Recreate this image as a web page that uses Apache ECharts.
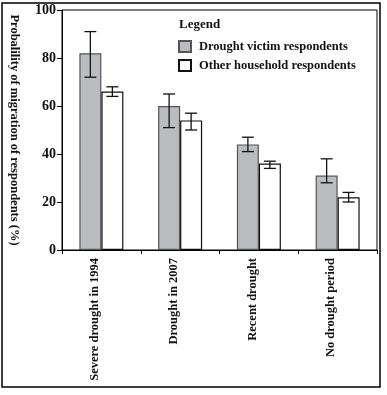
<!DOCTYPE html>
<html>
<head>
<meta charset="utf-8">
<script src="https://cdn.jsdelivr.net/npm/echarts@6/dist/echarts.min.js"></script>
<style>
html, body { margin: 0; padding: 0; background: #fff; }
#chart { width: 387px; height: 395px; }
</style>
</head>
<body>
<div id="chart"></div>
<script>
var categories = ['Severe drought in 1994', 'Drought in 2007', 'Recent drought', 'No drought period'];
var victimValues = [82, 60, 44, 31];
var victimErrLow = [72, 51, 41, 28];
var victimErrHigh = [91, 65, 47, 38];
var otherValues = [66, 54, 36, 22];
var otherErrLow = [64, 50, 34, 20];
var otherErrHigh = [68, 57, 37, 24];
var yTicks = [0, 20, 40, 60, 80, 100];

var font = '"Liberation Serif", "DejaVu Serif", serif';
var chart = echarts.init(document.getElementById('chart'));

function errData(lo, hi) {
    var out = [];
    for (var i = 0; i < categories.length; i++) {
        out.push([i, lo[i], hi[i]]);
    }
    return out;
}

// whisker drawn at the bar's center, offset from category center
function errRender(offset) {
    return function (params, api) {
        var lo = api.coord([api.value(0), api.value(1)]);
        var hi = api.coord([api.value(0), api.value(2)]);
        var x = lo[0] + offset;
        var cap = 6;
        var st = { stroke: '#111', lineWidth: 1.3 };
        return {
            type: 'group',
            children: [
                { type: 'line', shape: { x1: x, y1: lo[1], x2: x, y2: hi[1] }, style: st },
                { type: 'line', shape: { x1: x - cap, y1: lo[1], x2: x + cap, y2: lo[1] }, style: st },
                { type: 'line', shape: { x1: x - cap, y1: hi[1], x2: x + cap, y2: hi[1] }, style: st }
            ]
        };
    };
}

var option = {
    animation: false,
    backgroundColor: '#fff',
    title: {
        text: 'Legend',
        left: 174,
        top: 13,
        textStyle: { fontFamily: font, fontWeight: 'bold', fontSize: 13, color: '#111' }
    },
    legend: {
        orient: 'vertical',
        left: 173,
        top: 35,
        itemWidth: 12,
        itemHeight: 11,
        itemGap: 6,
        icon: 'rect',
        textStyle: { fontFamily: font, fontWeight: 'bold', fontSize: 12.5, color: '#111', padding: [0, 0, 0, 3] },
        data: ['Drought victim respondents', 'Other household respondents']
    },
    grid: {
        left: 53,
        right: 10,
        top: 10,
        bottom: 145,
        show: true,
        borderColor: '#000',
        borderWidth: 1
    },
    xAxis: {
        type: 'category',
        data: categories,
        axisLine: { lineStyle: { color: '#000', width: 1 } },
        axisTick: { show: true, length: 4, lineStyle: { color: '#000' } },
        axisLabel: {
            rotate: 90,
            interval: 0,
            margin: 8,
            verticalAlign: 'bottom',
            fontFamily: font,
            fontWeight: 'bold',
            fontSize: 12.5,
            color: '#111'
        }
    },
    yAxis: {
        type: 'value',
        min: 0,
        max: 100,
        interval: 20,
        name: 'Probalility of migration of respondents (%)',
        nameLocation: 'middle',
        nameRotate: -90,
        nameGap: 41,
        nameTextStyle: { fontFamily: font, fontWeight: 'bold', fontSize: 12.5, color: '#111' },
        axisLine: { show: true, lineStyle: { color: '#000', width: 1 } },
        axisTick: { show: true, length: 5, lineStyle: { color: '#000' } },
        axisLabel: {
            margin: 6,
            fontFamily: font,
            fontWeight: 'bold',
            fontSize: 14,
            color: '#111',
            customValues: yTicks
        },
        splitLine: { show: false }
    },
    series: [
        {
            name: 'Drought victim respondents',
            type: 'bar',
            barWidth: 22,
            barGap: '0%',
            data: victimValues,
            itemStyle: { color: '#bbbcbf', borderColor: '#555', borderWidth: 1.2 }
        },
        {
            name: 'Other household respondents',
            type: 'bar',
            barWidth: 22,
            barGap: '0%',
            data: otherValues,
            itemStyle: { color: '#fff', borderColor: '#111', borderWidth: 1.2 }
        },
        {
            type: 'custom',
            renderItem: errRender(-11),
            data: errData(victimErrLow, victimErrHigh),
            z: 5
        },
        {
            type: 'custom',
            renderItem: errRender(11),
            data: errData(otherErrLow, otherErrHigh),
            z: 5
        }
    ],
    graphic: [
        {
            type: 'rect',
            shape: { x: 2, y: 3, width: 378, height: 384 },
            style: { fill: 'none', stroke: '#000', lineWidth: 1.5 },
            silent: true
        }
    ]
};

chart.setOption(option);
</script>
</body>
</html>
